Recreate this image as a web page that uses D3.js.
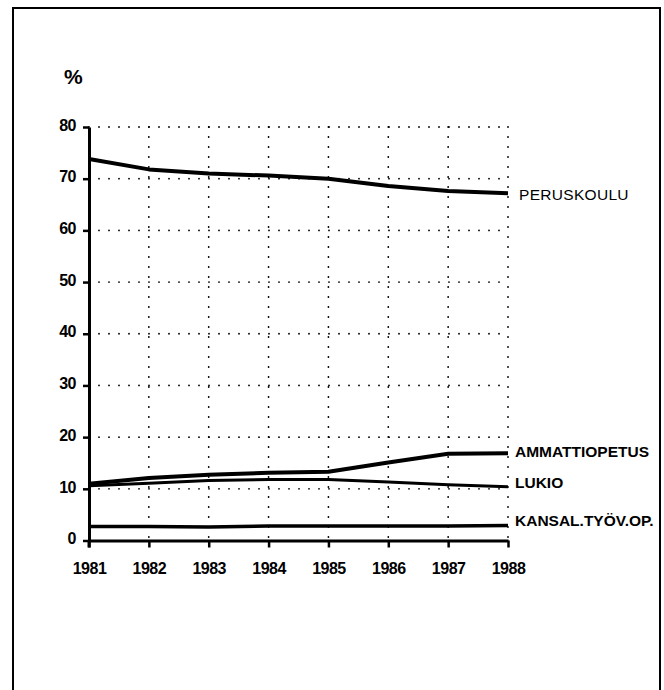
<!DOCTYPE html>
<html>
<head>
<meta charset="utf-8">
<script src="https://cdn.jsdelivr.net/npm/d3@7.9.0/dist/d3.min.js"></script>
<style>
  body { margin: 0; background: #fff; }
  svg { display: block; font-family: "Liberation Sans", Arial, Helvetica, sans-serif; }
</style>
</head>
<body>
<svg id="chart" width="664" height="690"></svg>
<script>
// data
const years = [1981, 1982, 1983, 1984, 1985, 1986, 1987, 1988];
const yTicks = [0, 10, 20, 30, 40, 50, 60, 70, 80];

const peruskoulu = [73.8, 71.8, 71.0, 70.6, 70.0, 68.6, 67.6, 67.2];
const ammattiopetus = [11.0, 12.1, 12.7, 13.1, 13.3, 15.1, 16.8, 16.9];
const lukio = [10.6, 11.1, 11.6, 11.8, 11.8, 11.3, 10.8, 10.4];
const kansal = [2.7, 2.7, 2.6, 2.8, 2.8, 2.8, 2.8, 2.9];

const seriesNames = ['PERUSKOULU', 'AMMATTIOPETUS', 'LUKIO', 'KANSAL.TYÖV.OP.'];
const seriesValues = [peruskoulu, ammattiopetus, lukio, kansal];

const svg = d3.select('#chart');

// page frame (open at the bottom)
svg.append('path')
  .attr('d', 'M13,700 L13,8 L660,8 L660,700')
  .attr('fill', 'none')
  .attr('stroke', '#000')
  .attr('stroke-width', 2);

const x = d3.scaleLinear().domain([1981, 1988]).range([89, 508]);
const y = d3.scaleLinear().domain([0, 80]).range([540.5, 127]);

// dotted grid
const grid = svg.append('g')
  .attr('stroke', '#000')
  .attr('stroke-width', 1.8)
  .attr('stroke-linecap', 'round')
  .attr('stroke-dasharray', '0 10');

grid.selectAll('.h')
  .data(yTicks.filter(d => d > 0))
  .join('line')
  .attr('x1', x(1981)).attr('x2', x(1988))
  .attr('y1', d => y(d)).attr('y2', d => y(d));

grid.selectAll('.v')
  .data(years.slice(1))
  .join('line')
  .attr('x1', d => x(d)).attr('x2', d => x(d))
  .attr('y1', y(80)).attr('y2', y(0));

// axes
const yAxis = svg.append('g')
  .attr('transform', `translate(${x(1981)},0)`)
  .call(d3.axisLeft(y).tickValues(yTicks).tickSize(6).tickSizeOuter(0).tickPadding(7));

const xAxis = svg.append('g')
  .attr('transform', `translate(0,${y(0)})`)
  .call(d3.axisBottom(x).tickValues(years).tickFormat(d3.format('d'))
    .tickSize(7).tickSizeOuter(0).tickPadding(15));

[yAxis, xAxis].forEach(a => {
  a.select('.domain').attr('stroke-width', 3);
  a.selectAll('.tick line').attr('stroke-width', 2.5);
  a.selectAll('text')
    .attr('fill', '#000')
    .style('font-size', '16px')
    .style('font-weight', 'bold')
    .style('letter-spacing', '-0.5px');
});
yAxis.selectAll('text').attr('dy', '0.2em');

// extend the y axis a little below zero like the original
svg.append('line')
  .attr('x1', x(1981)).attr('x2', x(1981))
  .attr('y1', y(0)).attr('y2', y(0) + 7)
  .attr('stroke', '#000').attr('stroke-width', 3);

// % unit
svg.append('text')
  .attr('x', 64).attr('y', 84)
  .style('font-size', '21px')
  .style('font-weight', 'bold')
  .text('%');

// series lines
const line = d3.line()
  .x((d, i) => x(years[i]))
  .y(d => y(d));

const widths = [4, 4, 3, 3.5];
svg.selectAll('.series')
  .data(seriesValues)
  .join('path')
  .attr('d', line)
  .attr('fill', 'none')
  .attr('stroke', '#000')
  .attr('stroke-width', (d, i) => widths[i])
  .attr('stroke-linejoin', 'round');

// end labels
const nudge = [1, -2, -4, -5];
svg.selectAll('.lbl')
  .data(seriesNames)
  .join('text')
  .attr('x', (d, i) => i === 0 ? 519 : 515)
  .attr('y', (d, i) => y(seriesValues[i][years.length - 1]) + nudge[i])
  .attr('dy', '0.35em')
  .style('font-size', '15.5px')
  .style('font-weight', (d, i) => i === 0 ? 'normal' : 'bold')
  .style('letter-spacing', (d, i) => i === 0 ? '0.3px' : '0px')
  .text(d => d);
</script>
</body>
</html>
